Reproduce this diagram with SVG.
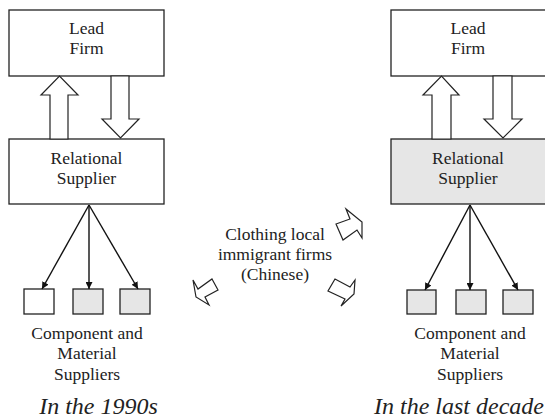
<svg xmlns="http://www.w3.org/2000/svg" width="545" height="418" viewBox="0 0 545 418" font-family="Liberation Serif, DejaVu Serif, serif">
  <style>
    .box { fill: #ffffff; stroke: #222222; stroke-width: 1.3; }
    .shade { fill: #e6e6e6; }
    .block { fill: #ffffff; stroke: #222222; stroke-width: 1.2; stroke-linejoin: miter; }
    .edge { stroke: #111111; stroke-width: 1.4; fill: none; marker-end: url(#head); }
    text { font-family: 'Liberation Serif', 'DejaVu Serif', serif; fill: #222222; text-anchor: middle; }
    .lbl { font-size: 17.5px; }
    .cap { font-size: 24px; font-style: italic; }
  </style>
  <defs>
    <marker id="head" viewBox="0 0 10 10" refX="10" refY="5" markerWidth="7" markerHeight="7" markerUnits="userSpaceOnUse" orient="auto">
      <path d="M0,0 L10,5 L0,10 Z" fill="#111111"/>
    </marker>
  </defs>

  <!-- left panel: 1990s -->
  <g id="lead-firm-left">
    <rect class="box" x="9" y="10" width="155" height="66"/>
    <text class="lbl" x="86.5" y="34">Lead</text>
    <text class="lbl" x="86.5" y="54">Firm</text>
  </g>
  <g id="relational-supplier-left">
    <rect class="box" x="9" y="139" width="155" height="65"/>
    <text class="lbl" x="86.5" y="164">Relational</text>
    <text class="lbl" x="86.5" y="184">Supplier</text>
  </g>
  <g id="suppliers-left">
    <rect class="box" x="24" y="289" width="30" height="25"/>
    <rect class="box shade" x="73" y="289" width="30" height="25"/>
    <rect class="box shade" x="120" y="289" width="30" height="25"/>
    <text class="lbl" x="87" y="339">Component and</text>
    <text class="lbl" x="87" y="359">Material</text>
    <text class="lbl" x="87" y="380">Suppliers</text>
  </g>
  <text class="cap" x="98.5" y="414">In the 1990s</text>

  <!-- right panel: last decade -->
  <g id="lead-firm-right">
    <rect class="box" x="391" y="10" width="156" height="66"/>
    <text class="lbl" x="468" y="34">Lead</text>
    <text class="lbl" x="468" y="54">Firm</text>
  </g>
  <g id="relational-supplier-right">
    <rect class="box shade" x="391" y="139" width="156" height="65"/>
    <text class="lbl" x="468" y="164">Relational</text>
    <text class="lbl" x="468" y="184">Supplier</text>
  </g>
  <g id="suppliers-right">
    <rect class="box shade" x="407" y="290" width="29" height="24"/>
    <rect class="box shade" x="456" y="290" width="30" height="24"/>
    <rect class="box shade" x="503" y="290" width="30" height="24"/>
    <text class="lbl" x="470" y="339">Component and</text>
    <text class="lbl" x="470" y="359">Material</text>
    <text class="lbl" x="470" y="380">Suppliers</text>
  </g>
  <text class="cap" x="459" y="414">In the last decade</text>

  <!-- centre: local immigrant firms -->
  <g id="immigrant-firms">
    <text class="lbl" x="275" y="240">Clothing local</text>
    <text class="lbl" x="275" y="260">immigrant firms</text>
    <text class="lbl" x="275" y="280">(Chinese)</text>
  </g>

  <g id="connectors">
    <!-- block arrows between lead firm and relational supplier -->
    <polygon class="block" points="50,139 50,95 41,95 59.5,76 78,95 68,95 68,139"/>
    <polygon class="block" points="111,76 111,119 102,119 120.5,138 139,119 129,119 129,76"/>
    <polygon class="block" points="432,139 432,95 423,95 441.5,76 459,95 451,95 451,139"/>
    <polygon class="block" points="493,76 493,119 484,119 503,138 522,119 512,119 512,76"/>

    <!-- small block arrows around the immigrant firms -->
    <polygon class="block" points="336,224 343,240 357,230 362,238 362,222 346,209 350,219"/>
    <polygon class="block" points="212,279 218,290 205,297 209,305 196,297 193,280 198,289"/>
    <polygon class="block" points="335,279 328,291 345,299 341,306 354,294 355,280 350,287"/>

    <!-- supplier fan-out -->
    <line class="edge" x1="89" y1="205" x2="42" y2="289"/>
    <line class="edge" x1="89" y1="205" x2="89" y2="289"/>
    <line class="edge" x1="89" y1="205" x2="138" y2="289"/>
    <line class="edge" x1="470" y1="205" x2="425" y2="290"/>
    <line class="edge" x1="470" y1="205" x2="470" y2="290"/>
    <line class="edge" x1="470" y1="205" x2="518" y2="290"/>
  </g>
</svg>
